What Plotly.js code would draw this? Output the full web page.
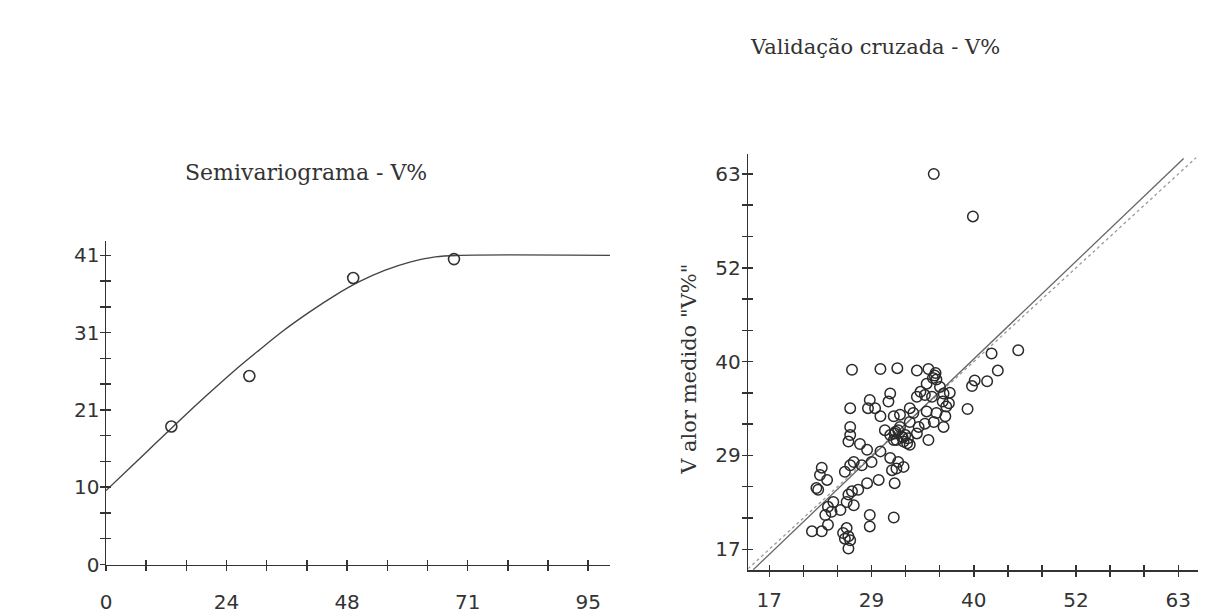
<!DOCTYPE html>
<html>
<head>
<meta charset="utf-8">
<script src="https://cdn.plot.ly/plotly-3.0.1.min.js"></script>
<style>html,body{margin:0;padding:0;background:#fff;}#chart{width:1205px;height:615px;}</style>
</head>
<body>
<div id="chart"></div>
<script>
// Semivariogram: experimental points
const semiLag = [12.9, 28.3, 48.8, 68.7];
const semiGamma = [18.3, 25.0, 38.0, 40.5];
// Fitted model curve
const modelLag = [0, 5, 10, 15, 20, 25, 30, 35, 40, 45, 50, 55, 60, 65, 70, 99.5];
const modelGamma = [9.8, 13.0, 16.2, 19.4, 22.5, 25.5, 28.3, 31.0, 33.4, 35.6, 37.5, 39.0, 40.1, 40.8, 41.0, 41.0];

// Cross-validation: estimated (x) vs measured (y)
const estimated = [35.5, 39.9, 45.0, 42.0, 42.7, 41.5, 40.1, 39.8, 39.3, 37.3, 36.9, 37.2, 36.5,
  26.3, 29.5, 31.4, 33.6, 34.9, 35.6, 35.8, 35.4, 36.2, 34.7, 34.0, 33.6, 34.5, 35.3, 36.6,
  30.6, 30.4, 28.3, 28.1, 28.9, 26.1, 29.5, 31.0, 31.7, 32.8, 33.2, 32.8, 34.7, 35.8, 36.8,
  35.5, 34.5, 36.6, 26.1, 26.1, 25.9, 30.0, 30.6, 31.1, 31.5, 31.7, 31.9, 32.3, 31.3, 31.0,
  32.6, 32.5, 32.8, 32.1, 33.8, 33.6, 34.9, 27.2, 28.0, 29.5, 26.5, 26.1, 27.4, 28.5, 30.6,
  31.5, 32.1, 30.8, 31.3, 22.9, 22.7, 23.5, 22.3, 22.5, 25.5, 29.3, 28.0, 27.0, 26.3, 25.9,
  31.1, 24.2, 23.6, 24.0, 23.3, 25.0, 25.7, 26.5, 28.3, 28.3, 31.0, 21.8, 22.9, 23.6, 25.7,
  25.3, 25.5, 25.9, 26.1, 25.9, 35.7, 31.2, 32.0];
const measured = [63.0, 57.8, 41.4, 41.0, 38.9, 37.6, 37.7, 37.0, 34.2, 36.2, 34.5, 34.9, 35.1,
  39.0, 39.1, 39.2, 38.9, 39.1, 38.3, 37.8, 38.0, 36.9, 37.3, 36.3, 35.7, 35.9, 35.7, 36.1,
  36.1, 35.1, 35.3, 34.3, 34.3, 34.3, 33.3, 33.3, 33.5, 34.3, 33.7, 32.6, 33.9, 33.7, 33.3,
  32.6, 32.4, 32.0, 32.0, 31.0, 30.2, 31.6, 31.0, 31.2, 31.6, 32.0, 30.8, 31.0, 30.4, 30.4,
  30.6, 30.0, 29.8, 30.2, 32.0, 31.2, 30.4, 29.9, 29.2, 29.0, 27.7, 27.3, 27.3, 27.7, 28.2,
  27.7, 27.1, 26.7, 26.9, 27.0, 26.1, 25.5, 24.5, 24.3, 26.5, 25.5, 25.1, 24.3, 24.1, 23.7,
  25.1, 22.8, 22.2, 21.6, 21.2, 21.8, 22.8, 22.4, 21.2, 19.8, 20.9, 19.2, 19.2, 20.0, 19.6,
  19.0, 18.3, 18.6, 18.1, 17.1, 38.6, 31.4, 30.7];
// Regression line and 1:1 reference line endpoints
const regX = [15.2, 63.6];
const regY = [14.5, 64.9];
const oneToOne = [14.6, 65.0];

// Tick values and labels
const semiXTickVals = [0, 7.93, 15.87, 23.8, 31.73, 39.67, 47.6, 55.53, 63.47, 71.4, 79.33, 87.27, 95.2];
const semiXTickText = ['0', '', '', '24', '', '', '48', '', '', '71', '', '', '95'];
const semiYTickVals = [0, 3.42, 6.83, 10.25, 13.67, 17.08, 20.5, 23.92, 27.33, 30.75, 34.17, 37.58, 41];
const semiYTickText = ['0', '', '', '10', '', '', '21', '', '', '31', '', '', '41'];
const cvTickVals = [17, 20.83, 24.67, 28.5, 32.33, 36.17, 40, 43.83, 47.67, 51.5, 55.33, 59.17, 63];
const cvTickText = ['17', '', '', '29', '', '', '40', '', '', '52', '', '', '63'];

const titleLeft = 'Semivariograma - V%';
const titleRight = 'Validação cruzada - V%';
const yTitleRight = 'V alor medido "V%"';

const ink = '#333';
const tickFont = {family: 'DejaVu Sans', size: 20, color: ink};
const titleFont = {family: 'DejaVu Serif', size: 21, color: ink};

const traces = [
  {x: modelLag, y: modelGamma, mode: 'lines', line: {color: '#444', width: 1.4, shape: 'spline'}, xaxis: 'x', yaxis: 'y', hoverinfo: 'skip'},
  {x: semiLag, y: semiGamma, mode: 'markers', marker: {symbol: 'circle-open', size: 11, color: '#333', line: {width: 1.6}}, xaxis: 'x', yaxis: 'y'},
  {x: oneToOne, y: oneToOne, mode: 'lines', line: {color: '#999', width: 1.3, dash: 'dot'}, xaxis: 'x2', yaxis: 'y2', hoverinfo: 'skip'},
  {x: regX, y: regY, mode: 'lines', line: {color: '#666', width: 1.3}, xaxis: 'x2', yaxis: 'y2', hoverinfo: 'skip'},
  {x: estimated, y: measured, mode: 'markers', marker: {symbol: 'circle-open', size: 10.5, color: '#2a2a2a', line: {width: 1.5}}, xaxis: 'x2', yaxis: 'y2'},
  {x: [], y: [], xaxis: 'x3', yaxis: 'y3', hoverinfo: 'skip'},
  {x: [], y: [], xaxis: 'x4', yaxis: 'y4', hoverinfo: 'skip'}
];

function axisBase(extra) {
  return Object.assign({
    showgrid: false, zeroline: false, showline: true, linecolor: ink, linewidth: 1.5,
    ticks: 'outside', ticklen: 5, tickwidth: 1.5, tickcolor: ink, tickfont: tickFont,
    tickmode: 'array', fixedrange: true
  }, extra);
}
function innerTicks(extra) {
  return Object.assign({
    showgrid: false, zeroline: false, showline: false, showticklabels: false,
    ticks: 'inside', ticklen: 5, tickwidth: 1.5, tickcolor: ink, tickmode: 'array', fixedrange: true
  }, extra);
}

const L = {xd: [106 / 1205, 610 / 1205], yd: [(615 - 564.5) / 615, (615 - 241) / 615]};
const R = {xd: [748.3 / 1205, 1198.3 / 1205], yd: [(615 - 570) / 615, (615 - 154) / 615]};

const layout = {
  width: 1205, height: 615,
  margin: {l: 0, r: 0, t: 0, b: 0},
  paper_bgcolor: '#fff', plot_bgcolor: 'rgba(0,0,0,0)',
  showlegend: false,
  xaxis: axisBase({domain: L.xd, range: [0, 99.5], anchor: 'y', tickvals: semiXTickVals, ticktext: semiXTickText, ticklabelstandoff: 14}),
  yaxis: axisBase({domain: L.yd, range: [0, 42.9], anchor: 'x', tickvals: semiYTickVals, ticktext: semiYTickText, ticklabelstandoff: -4}),
  xaxis2: axisBase({domain: R.xd, range: [14.64, 65.25], anchor: 'y2', tickvals: cvTickVals, ticktext: cvTickText, ticklabelstandoff: 6}),
  yaxis2: axisBase({domain: R.yd, range: [14.46, 65.45], anchor: 'x2', tickvals: cvTickVals, ticktext: cvTickText, ticklabelstandoff: -3}),
  xaxis3: innerTicks({overlaying: 'x', anchor: 'y3', range: [0, 99.5], tickvals: semiXTickVals}),
  yaxis3: innerTicks({overlaying: 'y', anchor: 'x3', range: [0, 42.9], tickvals: semiYTickVals}),
  xaxis4: innerTicks({overlaying: 'x2', anchor: 'y4', range: [14.64, 65.25], tickvals: cvTickVals}),
  yaxis4: innerTicks({overlaying: 'y2', anchor: 'x4', range: [14.46, 65.45], tickvals: cvTickVals}),
  annotations: [
    {text: titleLeft, xref: 'paper', yref: 'paper', x: 306 / 1205, y: 1 - 172 / 615, xanchor: 'center', yanchor: 'middle', showarrow: false, font: Object.assign({}, titleFont, {size: 22})},
    {text: titleRight, xref: 'paper', yref: 'paper', x: 875 / 1205, y: 1 - 47 / 615, xanchor: 'center', yanchor: 'middle', showarrow: false, font: titleFont},
    {text: yTitleRight, xref: 'paper', yref: 'paper', x: 688.8 / 1205, y: 1 - 369 / 615, xanchor: 'center', yanchor: 'middle', textangle: -90, showarrow: false, font: titleFont}
  ]
};

Plotly.newPlot('chart', traces, layout, {displayModeBar: false, staticPlot: true});
</script>
</body>
</html>
